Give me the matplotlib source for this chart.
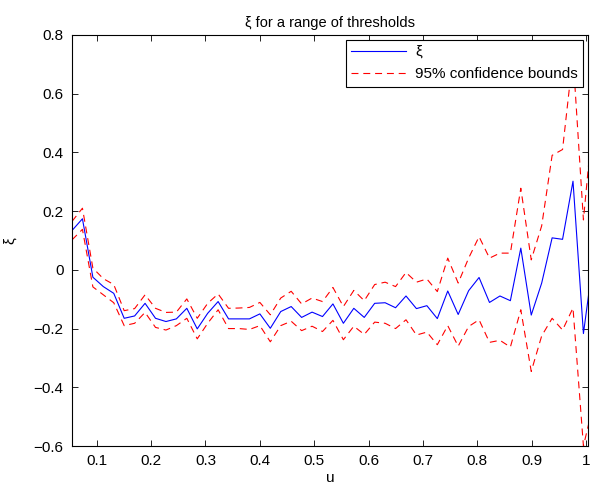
import numpy as np
import matplotlib
matplotlib.use("Agg")
import matplotlib.pyplot as plt

plt.rcParams['font.family'] = ['Liberation Sans', 'DejaVu Sans']
plt.rcParams['lines.scale_dashes'] = False

# thresholds u
u = [0.0545, 0.0737, 0.0929, 0.1121, 0.1313, 0.1505, 0.1697, 0.1889, 0.2081, 0.2273,
     0.2465, 0.2657, 0.2849, 0.3041, 0.3233, 0.3425, 0.3617, 0.3809, 0.4001, 0.4193,
     0.4385, 0.4577, 0.4769, 0.4961, 0.5153, 0.5345, 0.5537, 0.5729, 0.5921, 0.6113,
     0.6305, 0.6497, 0.6689, 0.6881, 0.7073, 0.7265, 0.7457, 0.7649, 0.7841, 0.8033,
     0.8225, 0.8417, 0.8609, 0.8801, 0.8993, 0.9185, 0.9377, 0.9569, 0.9761, 0.9953,
     1.0145]

# shape estimate xi
xi = [0.134, 0.174, -0.025, -0.057, -0.08, -0.165, -0.157, -0.114, -0.165, -0.176,
      -0.167, -0.131, -0.201, -0.148, -0.108, -0.167, -0.167, -0.167, -0.15, -0.199,
      -0.142, -0.125, -0.162, -0.144, -0.159, -0.116, -0.182, -0.131, -0.162, -0.114,
      -0.112, -0.129, -0.089, -0.132, -0.122, -0.166, -0.072, -0.152, -0.071, -0.026,
      -0.111, -0.089, -0.105, 0.074, -0.154, -0.045, 0.109, 0.104, 0.302, -0.217,
      0.05]

# 95% bounds
upper = [0.165, 0.21, 0.006, -0.03, -0.05, -0.139, -0.132, -0.085, -0.131, -0.145,
         -0.144, -0.099, -0.165, -0.114, -0.082, -0.131, -0.13, -0.128, -0.111, -0.153,
         -0.096, -0.073, -0.116, -0.096, -0.108, -0.06, -0.125, -0.07, -0.105, -0.05,
         -0.042, -0.057, -0.009, -0.042, -0.031, -0.074, 0.04, -0.045, 0.04, 0.113,
         0.04, 0.057, 0.057, 0.278, 0.034, 0.15, 0.39, 0.41, 0.73, 0.17,
         0.55]
lower = [0.102, 0.138, -0.058, -0.085, -0.112, -0.19, -0.182, -0.145, -0.196, -0.205,
         -0.19, -0.165, -0.235, -0.182, -0.136, -0.2, -0.2, -0.203, -0.19, -0.245,
         -0.19, -0.175, -0.207, -0.192, -0.21, -0.172, -0.238, -0.192, -0.22, -0.178,
         -0.182, -0.2, -0.17, -0.222, -0.212, -0.255, -0.19, -0.26, -0.193, -0.17,
         -0.247, -0.24, -0.263, -0.136, -0.346, -0.225, -0.165, -0.205, -0.13, -0.6,
         -0.45]

fig = plt.figure(figsize=(5.91, 4.93), dpi=100)
ax = fig.add_axes([72/591, 47/493, 516/591, 411/493])

ax.plot(u, xi, color='b', lw=0.8, label='\u03be')
ax.plot(u, upper, color='r', lw=0.8, dashes=(5, 3.5), label='95% confidence bounds')
ax.plot(u, lower, color='r', lw=0.8, dashes=(5, 3.5))

ax.set_xlim(0.0545, 1.0037)
ax.set_ylim(-0.6, 0.8)
ax.set_xticks([0.1, 0.2, 0.3, 0.4, 0.5, 0.6, 0.7, 0.8, 0.9, 1.0])
ax.set_xticklabels(['0.1', '0.2', '0.3', '0.4', '0.5', '0.6', '0.7', '0.8', '0.9', '1'])
ax.set_yticks([-0.6, -0.4, -0.2, 0, 0.2, 0.4, 0.6, 0.8])
ax.set_yticklabels(['\u22120.6', '\u22120.4', '\u22120.2', '0', '0.2', '0.4', '0.6', '0.8'])
ax.tick_params(direction='in', top=True, right=True, labelsize=11, length=4, width=0.6, pad=6)
for s in ax.spines.values():
    s.set_linewidth(0.8)

ax.set_title('\u03be for a range of thresholds', fontsize=10.5, pad=6)
ax.set_xlabel('u', fontsize=11, labelpad=2)
ax.set_ylabel('\u03be', fontsize=11, labelpad=12)

leg = ax.legend(loc='upper right', fontsize=11, frameon=True, fancybox=False,
                borderaxespad=0.3, handlelength=3.6, handletextpad=0.6,
                borderpad=0.35, labelspacing=0.55, framealpha=1)
leg.get_frame().set_edgecolor('black')
leg.get_frame().set_linewidth(0.8)

fig.savefig('out.png', dpi=100)
